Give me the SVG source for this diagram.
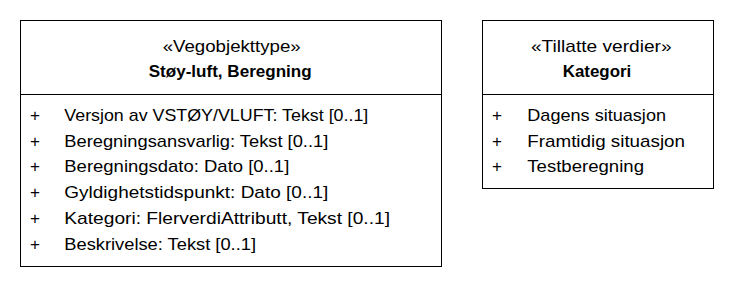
<svg xmlns="http://www.w3.org/2000/svg" width="734" height="288" viewBox="0 0 734 288">
  <style>
    .box { fill: #ffffff; stroke: #000000; stroke-width: 1; }
    .sep { stroke: #000000; stroke-width: 1; }
    text { font-family: "Liberation Sans", Arial, sans-serif; font-size: 17px; fill: #000000; }
    .title { text-anchor: middle; }
    .bold { font-weight: bold; }
    .vis { text-anchor: middle; }
  </style>
  <rect width="734" height="288" fill="#ffffff"/>

  <!-- Class: Støy-luft, Beregning -->
  <g id="stoy-luft-beregning">
    <rect class="box" x="20.5" y="20.5" width="421" height="246"/>
    <line class="sep" x1="20.5" y1="94.5" x2="441.5" y2="94.5"/>
    <text class="title" x="231.7" y="51.7" textLength="138" lengthAdjust="spacingAndGlyphs">«Vegobjekttype»</text>
    <text class="title bold" x="230.2" y="76.7" textLength="163" lengthAdjust="spacingAndGlyphs">Støy-luft, Beregning</text>
    <text class="vis" x="35" y="121">+</text>
    <text x="64.3" y="121" textLength="304" lengthAdjust="spacingAndGlyphs">Versjon av VSTØY/VLUFT: Tekst [0..1]</text>
    <text class="vis" x="35" y="146.7">+</text>
    <text x="64.3" y="146.7" textLength="264" lengthAdjust="spacingAndGlyphs">Beregningsansvarlig: Tekst [0..1]</text>
    <text class="vis" x="35" y="172.4">+</text>
    <text x="64.3" y="172.4" textLength="225" lengthAdjust="spacingAndGlyphs">Beregningsdato: Dato [0..1]</text>
    <text class="vis" x="35" y="198.1">+</text>
    <text x="64.3" y="198.1" textLength="264" lengthAdjust="spacingAndGlyphs">Gyldighetstidspunkt: Dato [0..1]</text>
    <text class="vis" x="35" y="223.8">+</text>
    <text x="64.3" y="223.8" textLength="325.7" lengthAdjust="spacingAndGlyphs">Kategori: FlerverdiAttributt, Tekst [0..1]</text>
    <text class="vis" x="35" y="249.5">+</text>
    <text x="64.3" y="249.5" textLength="191.7" lengthAdjust="spacingAndGlyphs">Beskrivelse: Tekst [0..1]</text>
  </g>

  <!-- Enumeration: Kategori -->
  <g id="kategori">
    <rect class="box" x="482.5" y="20.5" width="231" height="168"/>
    <line class="sep" x1="482.5" y1="94.5" x2="713.5" y2="94.5"/>
    <text class="title" x="601.3" y="51.7" textLength="140.7" lengthAdjust="spacingAndGlyphs">«Tillatte verdier»</text>
    <text class="title bold" x="597" y="76.7" textLength="68.6" lengthAdjust="spacingAndGlyphs">Kategori</text>
    <text class="vis" x="497" y="121">+</text>
    <text x="527.3" y="121" textLength="138.7" lengthAdjust="spacingAndGlyphs">Dagens situasjon</text>
    <text class="vis" x="497" y="146.7">+</text>
    <text x="527.3" y="146.7" textLength="157.7" lengthAdjust="spacingAndGlyphs">Framtidig situasjon</text>
    <text class="vis" x="497" y="172.4">+</text>
    <text x="527.3" y="172.4" textLength="116.7" lengthAdjust="spacingAndGlyphs">Testberegning</text>
  </g>

  <!-- No associations between the two classifiers -->
  <g id="connectors"/>
</svg>
